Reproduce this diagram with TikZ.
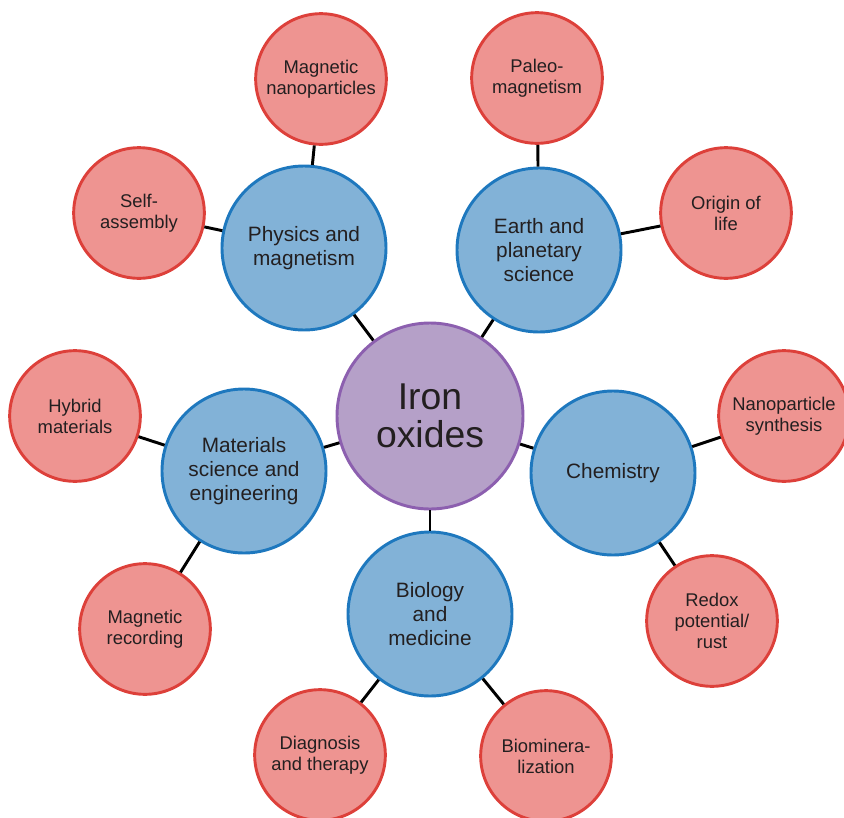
\documentclass[tikz,border=0pt]{standalone}
\usepackage{fontspec}
\setmainfont{Liberation Sans}
\definecolor{inkgray}{RGB}{35,31,32}
\definecolor{corefill}{RGB}{181,160,200}
\definecolor{coreline}{RGB}{140,95,175}
\definecolor{fieldfill}{RGB}{130,178,215}
\definecolor{fieldline}{RGB}{30,120,190}
\definecolor{topicfill}{RGB}{238,148,145}
\definecolor{topicline}{RGB}{221,64,58}
\tikzstyle{core}=[
	circle,
	line width=2.2pt,
	draw=coreline,
	fill=corefill,
	text=inkgray,
	align=center,
	inner sep=0pt,
	minimum size=139.5pt,
	font=\fontsize{28}{29}\selectfont
]
\tikzstyle{field}=[
	circle,
	line width=2.2pt,
	draw=fieldline,
	fill=fieldfill,
	text=inkgray,
	align=center,
	inner sep=0pt,
	minimum size=123pt,
	font=\fontsize{15.6}{18}\selectfont
]
\tikzstyle{topic}=[
	circle,
	line width=2.2pt,
	draw=topicline,
	fill=topicfill,
	text=inkgray,
	align=center,
	inner sep=0pt,
	minimum size=98pt,
	font=\fontsize{13.8}{15.8}\selectfont
]
\tikzstyle{link}=[
	line width=2.2pt,
	draw=black
]
\begin{document}
\begin{tikzpicture}[x=0.75pt,y=-0.75pt]
\useasboundingbox (0,0) rectangle (844,818);
\node [core] (IronOxides) at (430,416) {Iron\\oxides};
\node [field] (Physics) at (304,248) {Physics and\\magnetism}
	edge [link] (IronOxides);
\node [field] (Earth) at (539,250) {Earth and\\planetary\\science}
	edge [link] (IronOxides);
\node [field] (Chemistry) at (613,473) {Chemistry}
	edge [link] (IronOxides);
\node [field] (Biology) at (430,614) {Biology\\and\\medicine}
	edge [link] (IronOxides);
\node [field] (Materials) at (244,471) {Materials\\science and\\engineering}
	edge [link] (IronOxides);
\node [topic] (MagNano) at (321,79) {Magnetic\\nanoparticles}
	edge [link] (Physics);
\node [topic] (SelfAssembly) at (139,213) {Self-\\assembly}
	edge [link] (Physics);
\node [topic] (Paleo) at (537,78) {Paleo-\\magnetism}
	edge [link] (Earth);
\node [topic] (Origin) at (726,213) {Origin of\\life}
	edge [link] (Earth);
\node [topic] (NanoSynth) at (784,416) {Nanoparticle\\synthesis}
	edge [link] (Chemistry);
\node [topic] (Redox) at (712,621) {Redox\\potential/\\rust}
	edge [link] (Chemistry);
\node [topic] (Diagnosis) at (320,755) {Diagnosis\\and therapy}
	edge [link] (Biology);
\node [topic] (Biomin) at (546,756) {Biominera-\\lization}
	edge [link] (Biology);
\node [topic] (Hybrid) at (75,416) {Hybrid\\materials}
	edge [link] (Materials);
\node [topic] (MagRec) at (145,629) {Magnetic\\recording}
	edge [link] (Materials);
\end{tikzpicture}
\end{document}
